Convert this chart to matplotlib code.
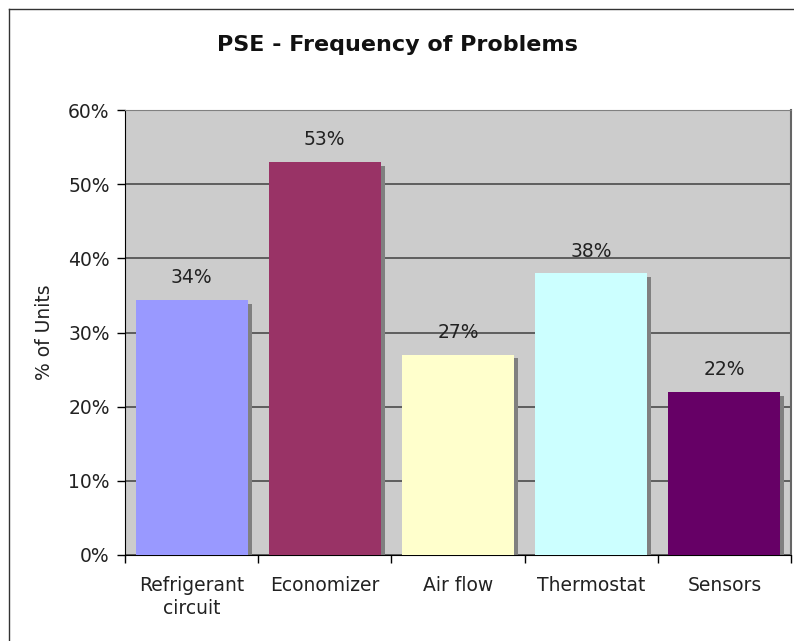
import numpy as np
import matplotlib.pyplot as plt
from matplotlib.lines import Line2D

categories = ['Refrigerant\ncircuit', 'Economizer', 'Air flow', 'Thermostat', 'Sensors']
values = [34.4, 53.0, 27.0, 38.0, 22.0]
labels = ['34%', '53%', '27%', '38%', '22%']
colors = ['#9999FF', '#993366', '#FFFFCC', '#CCFFFF', '#660066']
yticks = [0, 10, 20, 30, 40, 50, 60]

fig = plt.figure(figsize=(7.94, 6.41), dpi=100)
ax = fig.add_axes([125 / 794, 1 - 555 / 641, 666 / 794, 445 / 641])
ax.set_facecolor('#CCCCCC')

x = np.arange(len(categories))
w = 0.84
# shadow behind each bar
ax.bar(x + 0.03, np.array(values) - 0.5, width=w, color='#808080', zorder=2)
ax.bar(x, values, width=w, color=colors, zorder=3)

for xi, v, lab in zip(x, values, labels):
    ax.annotate(lab, (xi, v), xytext=(0, 9), textcoords='offset points',
                ha='center', va='bottom', fontsize=13.5, color='#222222')

ax.set_xlim(-0.5, len(categories) - 0.5)
ax.set_ylim(0, 60)
ax.set_yticks(yticks)
ax.set_yticklabels([f'{t}%' for t in yticks], fontsize=13.5, color='#222222')
ax.set_xticks(x)
ax.set_xticklabels(categories, fontsize=13.5, color='#222222', linespacing=1.25)
ax.tick_params(axis='x', length=0, pad=15)
ax.set_xticks(np.arange(len(categories) + 1) - 0.5, minor=True)
ax.tick_params(axis='x', which='minor', length=6, direction='out', width=1)
ax.tick_params(axis='y', length=6, width=1, pad=5)
ax.yaxis.grid(True, color='#555555', linewidth=1.3, zorder=1)
ax.set_axisbelow(True)

ax.spines['left'].set_color('black')
ax.spines['bottom'].set_color('black')
ax.spines['top'].set_color('#808080')
ax.spines['right'].set_color('#666666')
ax.spines['right'].set_linewidth(1.5)

ax.set_ylabel('% of Units', fontsize=13.5, color='#222222', labelpad=10)
fig.text(0.5, 1 - 45 / 641, 'PSE - Frequency of Problems', ha='center', va='center',
         fontsize=16, fontweight='bold', color='#111111')

# outer chart frame (cut off at right and bottom)
fig.add_artist(Line2D([8.5 / 794, 8.5 / 794], [0, 1 - 8.5 / 641], color='#333333', lw=1))
fig.add_artist(Line2D([8.5 / 794, 1], [1 - 8.5 / 641, 1 - 8.5 / 641], color='#333333', lw=1))

fig.savefig('out.png', dpi=100)
